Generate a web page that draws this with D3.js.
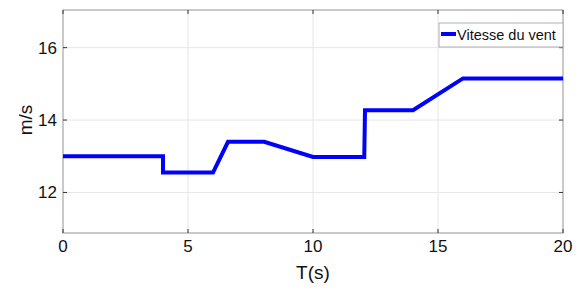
<!DOCTYPE html>
<meta charset="utf-8">
<style>
  body { margin: 0; background: #fff; }
  text { font-family: "Liberation Sans", Arial, sans-serif; fill: #111; }
</style>
<body>
<svg width="586" height="291"></svg>
<script src="https://cdnjs.cloudflare.com/ajax/libs/d3/7.8.5/d3.min.js"></script>
<script>
// wind speed profile (time in s, speed in m/s)
var times  = [0, 4, 4, 6, 6.6, 8.05, 10, 12.05, 12.08, 14, 16, 20];
var speeds = [13, 13, 12.55, 12.55, 13.4, 13.4, 12.98, 12.98, 14.27, 14.27, 15.15, 15.15];
var xTicks = [0, 5, 10, 15, 20];
var yTicks = [12, 14, 16];
var seriesName = "Vitesse du vent";

var svg = d3.select("svg");
var margin = {left: 63, right: 23, top: 10, bottom: 58};
var W = 586, H = 291;

var xMin = 0, xMax = 20, yMin = 10.88, yMax = 17.04;
var x = d3.scaleLinear().domain([xMin, xMax]).range([margin.left, W - margin.right]);
var y = d3.scaleLinear().domain([yMin, yMax]).range([H - margin.bottom, margin.top]);

// grid
svg.append("g").selectAll("line")
    .data(xTicks.slice(1, -1)).enter().append("line")
    .attr("x1", d => x(d)).attr("x2", d => x(d))
    .attr("y1", y(yMin)).attr("y2", y(yMax))
    .style("stroke", "#e6e6e6").style("stroke-width", 1);
svg.append("g").selectAll("line")
    .data(yTicks).enter().append("line")
    .attr("x1", x(xMin)).attr("x2", x(xMax))
    .attr("y1", d => y(d)).attr("y2", d => y(d))
    .style("stroke", "#e6e6e6").style("stroke-width", 1);

// box
svg.append("rect")
    .attr("x", x(xMin)).attr("y", y(yMax))
    .attr("width", x(xMax) - x(xMin)).attr("height", y(yMin) - y(yMax))
    .style("fill", "none").style("stroke", "#a6a6a6").style("stroke-width", 1.2);

// ticks (inward, on all four sides)
var tl = 4;
xTicks.forEach(function(t) {
    svg.append("line").attr("x1", x(t)).attr("x2", x(t)).attr("y1", y(yMin)).attr("y2", y(yMin) - tl)
        .style("stroke", "#333");
    svg.append("line").attr("x1", x(t)).attr("x2", x(t)).attr("y1", y(yMax)).attr("y2", y(yMax) + tl)
        .style("stroke", "#333");
});
yTicks.forEach(function(t) {
    svg.append("line").attr("x1", x(xMin)).attr("x2", x(xMin) + tl).attr("y1", y(t)).attr("y2", y(t))
        .style("stroke", "#333");
    svg.append("line").attr("x1", x(xMax)).attr("x2", x(xMax) - tl).attr("y1", y(t)).attr("y2", y(t))
        .style("stroke", "#333");
});

// tick labels
svg.append("g").selectAll("text")
    .data(xTicks).enter().append("text")
    .attr("x", d => x(d)).attr("y", 252)
    .attr("text-anchor", "middle")
    .style("font-size", "17px")
    .text(d => d);
svg.append("g").selectAll("text")
    .data(yTicks).enter().append("text")
    .attr("x", x(xMin) - 6).attr("y", d => y(d) + 6)
    .attr("text-anchor", "end")
    .style("font-size", "17px")
    .text(d => d);

// axis titles
svg.append("text")
    .attr("x", (x(xMin) + x(xMax)) / 2).attr("y", 279)
    .attr("text-anchor", "middle")
    .style("font-size", "19px")
    .text("T(s)");
svg.append("text")
    .attr("transform", "translate(32," + y(14) + ") rotate(-90)")
    .attr("text-anchor", "middle")
    .style("font-size", "19px")
    .text("m/s");

// series
var line = d3.line()
    .x(function(d, i) { return x(times[i]); })
    .y(function(d) { return y(d); });

svg.append("path")
    .datum(speeds)
    .attr("d", line)
    .style("fill", "none")
    .style("stroke", "#0000ff")
    .style("stroke-width", 4)
    .style("stroke-linejoin", "miter");

// legend
var lg = svg.append("g").attr("transform", "translate(439,23)");
lg.append("rect").attr("width", 124).attr("height", 24)
    .style("fill", "#fff").style("stroke", "#b0b0b0");
lg.append("line").attr("x1", 2).attr("x2", 17).attr("y1", 11).attr("y2", 11)
    .style("stroke", "#0000ff").style("stroke-width", 4);
lg.append("text").attr("x", 18).attr("y", 17)
    .style("font-size", "14.5px")
    .text(seriesName);
</script>
</body>
